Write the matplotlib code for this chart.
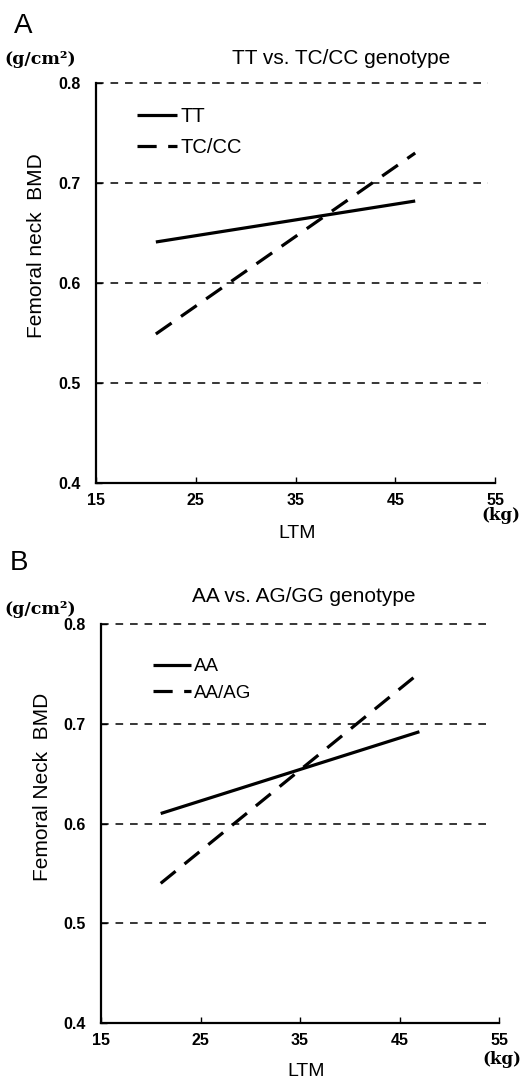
import matplotlib
matplotlib.use("Agg")
import matplotlib.pyplot as plt

plt.rcParams['font.family'] = ['Liberation Sans', 'DejaVu Sans']

# ---- data ----
ltm_x = [21, 47]                  # LTM range of the fitted lines (kg)
a_tt = [0.641, 0.682]
a_tccc = [0.549, 0.730]
b_aa = [0.610, 0.692]
b_aaag = [0.540, 0.751]
x_ticks = [15, 25, 35, 45, 55]
y_ticks = [0.4, 0.5, 0.6, 0.7, 0.8]
grid_vals = [0.5, 0.6, 0.7, 0.8]

fig = plt.figure(figsize=(5.22, 10.8), dpi=100)
W, H = 522, 1080

def make_axes(l, r, b, t):
    return fig.add_axes([l / W, 1 - b / H, (r - l) / W, (b - t) / H])

def style(ax):
    ax.set_xlim(15, 55)
    ax.set_ylim(0.4, 0.8)
    for s in ['top', 'right']:
        ax.spines[s].set_visible(False)
    for s in ['left', 'bottom']:
        ax.spines[s].set_linewidth(1.6)
    ax.set_xticks(x_ticks)
    ax.set_yticks(y_ticks)
    ax.set_xticklabels([str(v) for v in x_ticks], fontsize=11.5, fontweight='bold')
    ax.set_yticklabels([f"{v:.1f}" for v in y_ticks], fontsize=11.5, fontweight='bold')
    ax.tick_params(axis='both', direction='in', length=4, width=1)
    ax.tick_params(axis='x', pad=7)
    ax.tick_params(axis='y', pad=11)
    for g in grid_vals:
        ax.plot([15, 54.3], [g, g], color='black', lw=1.1, ls=(0, (5, 4.5)),
                clip_on=False, zorder=1)

axA = make_axes(96, 495, 483, 83)
axB = make_axes(101, 499, 1023, 624)
style(axA)
style(axB)

dash = (0, (6, 3.6))
axA.plot(ltm_x, a_tt, color='black', lw=2.3, solid_capstyle='butt', label='TT', zorder=3)
axA.plot(ltm_x, a_tccc, color='black', lw=2.3, ls=dash, label='TC/CC', zorder=3)
axB.plot(ltm_x, b_aa, color='black', lw=2.3, solid_capstyle='butt', label='AA', zorder=3)
axB.plot(ltm_x, b_aaag, color='black', lw=2.3, ls=dash, label='AA/AG', zorder=3)

axA.legend(loc='upper left', bbox_to_anchor=((137 - 96) / 399, 1 - (107 - 83) / 400),
           frameon=False, fontsize=14.5, handlelength=2.0, handletextpad=0.15,
           labelspacing=0.6, borderaxespad=0, borderpad=0)
axB.legend(loc='upper left', bbox_to_anchor=((153 - 101) / 398, 1 - (658 - 624) / 399),
           frameon=False, fontsize=13.5, handlelength=2.05, handletextpad=0.15,
           labelspacing=0.5, borderaxespad=0, borderpad=0)

def ftext(x, y, s, **kw):
    fig.text(x / W, 1 - y / H, s, **kw)

serif = ['DejaVu Serif', 'Liberation Serif']
# Panel A texts
ftext(14, 26, 'A', fontsize=20, va='center', ha='left')
ftext(4, 60, '(g/cm²)', fontsize=12.5, fontweight='bold', family=serif, va='center', ha='left')
ftext(341, 58, 'TT vs. TC/CC genotype', fontsize=15, va='center', ha='center')
ftext(297, 533, 'LTM', fontsize=14, va='center', ha='center')
ftext(520, 515, '(kg)', fontsize=12, fontweight='bold', family=serif, va='center', ha='right')
ftext(37, 246, 'Femoral neck  BMD', fontsize=15, va='center', ha='center', rotation=90)

# Panel B texts
ftext(10, 563, 'B', fontsize=20, va='center', ha='left')
ftext(4, 609, '(g/cm²)', fontsize=12.5, fontweight='bold', family=serif, va='center', ha='left')
ftext(304, 596, 'AA vs. AG/GG genotype', fontsize=15, va='center', ha='center')
ftext(306, 1071, 'LTM', fontsize=14, va='center', ha='center')
ftext(521, 1060, '(kg)', fontsize=12, fontweight='bold', family=serif, va='center', ha='right')
ftext(43, 787, 'Femoral Neck  BMD', fontsize=15, va='center', ha='center', rotation=90)

fig.savefig('out.png', dpi=100)
